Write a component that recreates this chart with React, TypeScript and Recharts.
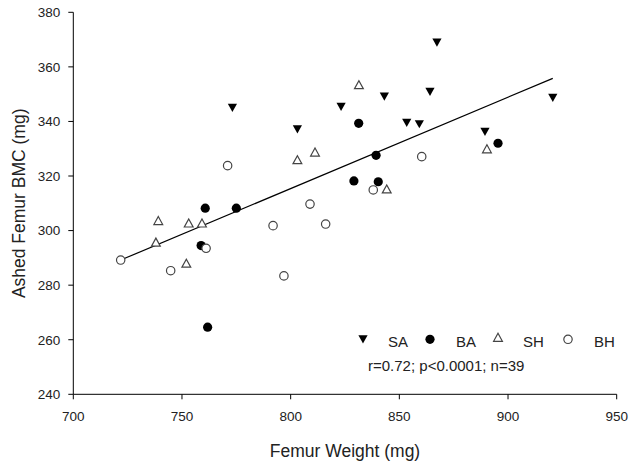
import {
  ScatterChart,
  Scatter,
  XAxis,
  YAxis,
  ReferenceLine,
  Legend,
} from 'recharts';

// femur weight (mg), ashed femur BMC (mg)
const saPoints: [number, number][] = [
  [773.2, 345.0], [823.2, 345.4], [803.1, 337.1], [867.3, 368.9], [843.1, 349.1],
  [864.1, 350.9], [920.6, 348.7], [853.4, 339.5], [859.2, 339.0], [889.4, 336.2],
];
const baPoints: [number, number][] = [
  [831.3, 339.3], [829.1, 318.2], [895.4, 332.0], [839.3, 327.6], [840.3, 317.9],
  [760.7, 308.2], [775.0, 308.2], [758.8, 294.5], [761.8, 264.6],
];
const shPoints: [number, number][] = [
  [831.4, 353.4], [811.2, 328.7], [803.1, 325.9], [890.3, 329.9], [844.2, 315.2],
  [739.1, 303.6], [753.1, 302.7], [759.2, 302.7], [738.0, 295.7], [752.0, 288.0],
];
const bhPoints: [number, number][] = [
  [771.0, 323.8], [860.3, 327.1], [838.0, 314.9], [808.9, 309.7], [791.9, 301.8],
  [816.1, 302.4], [761.1, 293.5], [721.8, 289.2], [744.8, 285.3], [796.9, 283.4],
];

// regression line end points
const fitStart = { x: 721.8, y: 289.2 };
const fitEnd = { x: 920.6, y: 355.8 };

const xTicks = [700, 750, 800, 850, 900, 950];
const yTicks = [240, 260, 280, 300, 320, 340, 360, 380];
const statsText = 'r=0.72; p<0.0001; n=39';

const FONT = '"Liberation Sans", Arial, sans-serif';
const TEXT = '#222';
const OPEN = '#444';

const toData = (pts: [number, number][]) => pts.map(([x, y]) => ({ x, y }));

function FilledDown({ cx, cy }: any) {
  return <polygon points={`${cx - 4.6},${cy - 4} ${cx + 4.6},${cy - 4} ${cx},${cy + 4.2}`} fill="#000" />;
}
function FilledCircle({ cx, cy }: any) {
  return <circle cx={cx} cy={cy} r={4.6} fill="#000" />;
}
function OpenUp({ cx, cy }: any) {
  return (
    <polygon
      points={`${cx - 4.4},${cy + 3.8} ${cx + 4.4},${cy + 3.8} ${cx},${cy - 4.2}`}
      fill="#fff"
      stroke={OPEN}
      strokeWidth={1.2}
    />
  );
}
function OpenCircle({ cx, cy }: any) {
  return <circle cx={cx} cy={cy} r={4.2} fill="#fff" stroke={OPEN} strokeWidth={1.2} />;
}

const series = [
  { name: 'SA', data: saPoints, Shape: FilledDown, mx: 8, my: 11.3, tx: 33 },
  { name: 'BA', data: baPoints, Shape: FilledCircle, mx: 75, my: 11.3, tx: 101 },
  { name: 'SH', data: shPoints, Shape: OpenUp, mx: 143, my: 9.5, tx: 168 },
  { name: 'BH', data: bhPoints, Shape: OpenCircle, mx: 213, my: 11.3, tx: 239 },
];

function LegendBox() {
  return (
    <svg width={280} height={50} style={{ fontFamily: FONT, overflow: 'visible' }}>
      {series.map((s) => (
        <g key={s.name}>
          <s.Shape cx={s.mx} cy={s.my} />
          <text x={s.tx} y={18.5} fontSize={15} fill={TEXT}>
            {s.name}
          </text>
        </g>
      ))}
      <text x={13} y={42.7} fontSize={15} fill={TEXT}>
        {statsText}
      </text>
    </svg>
  );
}

export default function App() {
  return (
    <div style={{ position: 'absolute', left: 0, top: 0, width: 637, height: 466, background: '#fff', fontFamily: FONT }}>
      <ScatterChart width={637} height={466} margin={{ top: 12.3, right: 20.3, bottom: 41.7, left: 13 }}>
        <XAxis
          type="number"
          dataKey="x"
          domain={[700, 950]}
          ticks={xTicks}
          height={30}
          tickSize={5}
          tickMargin={12}
          axisLine={{ stroke: '#000' }}
          tickLine={{ stroke: '#000' }}
          tick={{ fontSize: 13.5, fill: TEXT, fontFamily: FONT }}
          label={{ value: 'Femur Weight (mg)', position: 'bottom', offset: 20, fontSize: 17.5, fill: TEXT, fontFamily: FONT }}
        />
        <YAxis
          type="number"
          dataKey="y"
          domain={[240, 380]}
          ticks={yTicks}
          width={60.3}
          tickSize={5}
          tickMargin={8}
          axisLine={{ stroke: '#000' }}
          tickLine={{ stroke: '#000' }}
          tick={{ fontSize: 13.5, fill: TEXT, fontFamily: FONT }}
          label={{
            value: 'Ashed Femur BMC (mg)',
            angle: -90,
            position: 'insideLeft',
            offset: 6,
            fontSize: 17.5,
            fill: TEXT,
            fontFamily: FONT,
            style: { textAnchor: 'middle' },
          }}
        />
        <ReferenceLine segment={[fitStart, fitEnd]} stroke="#000" strokeWidth={1.2} />
        {series.map((s) => (
          <Scatter
            key={s.name}
            name={s.name}
            data={toData(s.data)}
            shape={(p: any) => <s.Shape cx={p.cx} cy={p.cy} />}
            isAnimationActive={false}
          />
        ))}
        <Legend
          layout="horizontal"
          verticalAlign="middle"
          content={() => <LegendBox />}
          wrapperStyle={{ position: 'absolute', left: 355, top: 328, width: 280, height: 50 }}
        />
      </ScatterChart>
    </div>
  );
}
